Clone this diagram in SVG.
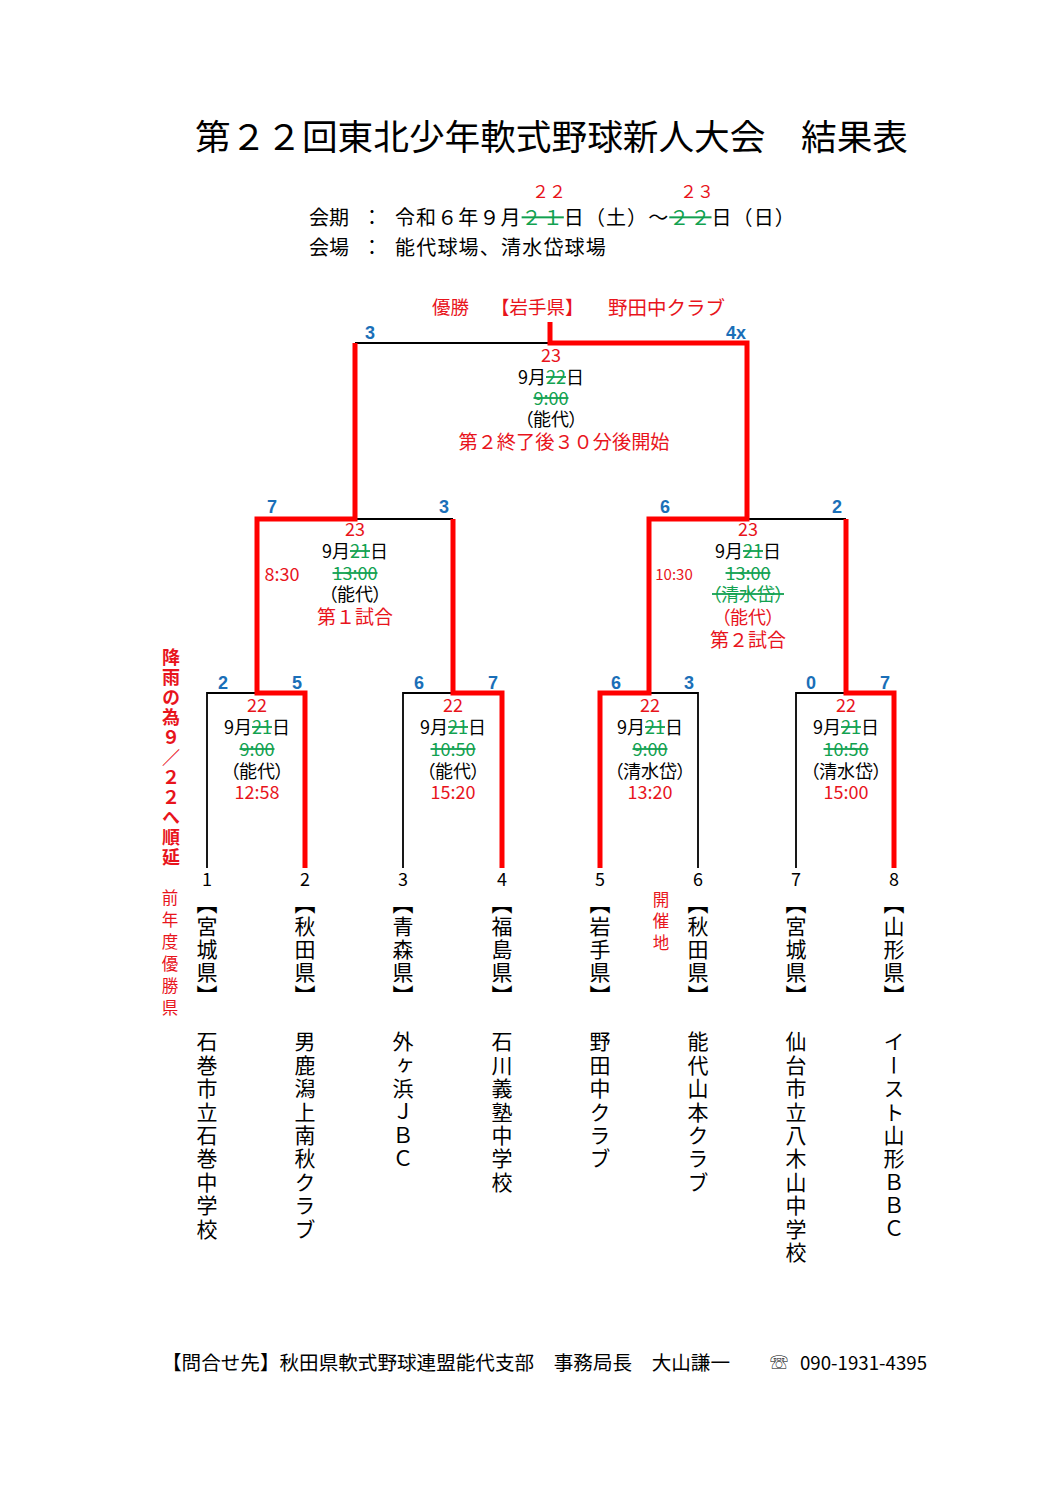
<svg xmlns="http://www.w3.org/2000/svg" width="1058" height="1497" viewBox="0 0 1058 1497">
<style>
.t{font-family:"Noto Sans CJK JP","Noto Sans CJK SC",sans-serif;dominant-baseline:central;fill:#000}
.m{font-size:18px;text-anchor:middle;font-feature-settings:"palt"}
.red{fill:#e8141c}
.grn{fill:#12a150}
.s{text-decoration:line-through}
.sc{font-family:"Liberation Sans",Arial,sans-serif;font-weight:bold;font-size:18px;fill:#1a6fb8;text-anchor:middle;dominant-baseline:central}
.v{writing-mode:vertical-rl;font-size:21px;letter-spacing:2px}
.tn{writing-mode:vertical-rl;font-size:21px;letter-spacing:2.4px}
.rl{stroke:#ff0000;stroke-width:5;fill:none;stroke-linejoin:miter}
.bl{stroke:#000;stroke-width:1.8;fill:none}
.num{font-size:18px;text-anchor:middle}
</style>
<rect width="1058" height="1497" fill="#fff"/>
<g id="title">
<text class="t" x="195" y="134" font-size="35.6" textLength="713" lengthAdjust="spacingAndGlyphs">第２２回東北少年軟式野球新人大会　結果表</text>
</g>
<g id="header">
<text class="t red" x="549" y="190" font-size="17" text-anchor="middle">２２</text>
<text class="t red" x="697" y="190" font-size="17" text-anchor="middle">２３</text>
<text class="t" x="309" y="216" font-size="20">会期</text>
<text class="t" x="372" y="216" font-size="20" text-anchor="middle">：</text>
<text class="t" x="395" y="216" font-size="20" letter-spacing="1.1">令和６年９月<tspan class="grn s">２１</tspan>日（土）～<tspan class="grn s">２２</tspan>日（日）</text>
<text class="t" x="309" y="246" font-size="20">会場</text>
<text class="t" x="372" y="246" font-size="20" text-anchor="middle">：</text>
<text class="t" x="395" y="246" font-size="20" letter-spacing="1.2">能代球場、清水岱球場</text>
</g>
<g id="winner">
<text class="t red" x="432" y="306" font-size="18.5">優勝</text>
<text class="t red" x="491" y="306" font-size="18.5">【岩手県】</text>
<text class="t red" x="608" y="306" font-size="19.5">野田中クラブ</text>
</g>
<g id="connectors">
<path class="bl" d="M355,343 H550"/>
<path class="bl" d="M355,519 H453"/>
<path class="bl" d="M747,519 H846"/>
<path class="bl" d="M207,868 V693 H257"/>
<path class="bl" d="M403,868 V693 H453"/>
<path class="bl" d="M649,693 H698 V868"/>
<path class="bl" d="M796,868 V693 H846"/>
<path class="rl" d="M600,868 V693 H649 V519 H747 V343 H550 V322"/>
<path class="rl" d="M305,868 V693 H257 V519 H355 V343"/>
<path class="rl" d="M502,868 V693 H453 V519"/>
<path class="rl" d="M894,868 V693 H846 V519"/>
</g>
<g id="scores">
<text class="sc" x="370" y="333">3</text>
<text class="sc" x="736" y="333">4x</text>
<text class="sc" x="272" y="507">7</text>
<text class="sc" x="444" y="507">3</text>
<text class="sc" x="665" y="507">6</text>
<text class="sc" x="837" y="507">2</text>
<text class="sc" x="223" y="683">2</text>
<text class="sc" x="297" y="683">5</text>
<text class="sc" x="419" y="683">6</text>
<text class="sc" x="493" y="683">7</text>
<text class="sc" x="616" y="683">6</text>
<text class="sc" x="689" y="683">3</text>
<text class="sc" x="811" y="683">0</text>
<text class="sc" x="885" y="683">7</text>
</g>
<g id="final">
<text class="t m red" x="551" y="354">23</text>
<text class="t m" x="551" y="376">9月<tspan class="grn s">22</tspan>日</text>
<text class="t m grn s" x="551" y="397">9:00</text>
<text class="t m" x="551" y="418">（能代）</text>
<text class="t red" x="564" y="441" font-size="19.2" text-anchor="middle">第２終了後３０分後開始</text>
</g>
<g id="semi1">
<text class="t m red" x="355" y="528">23</text>
<text class="t m" x="355" y="550">9月<tspan class="grn s">21</tspan>日</text>
<text class="t m grn s" x="355" y="572">13:00</text>
<text class="t m" x="355" y="593">（能代）</text>
<text class="t red" x="355" y="615" font-size="19" text-anchor="middle">第１試合</text>
<text class="t m red" x="282" y="573">8:30</text>
</g>
<g id="semi2">
<text class="t m red" x="748" y="528">23</text>
<text class="t m" x="748" y="550">9月<tspan class="grn s">21</tspan>日</text>
<text class="t m grn s" x="748" y="572">13:00</text>
<text class="t m grn s" x="748" y="593">（清水岱）</text>
<text class="t m red" x="748" y="616">（能代）</text>
<text class="t red" x="748" y="638" font-size="19" text-anchor="middle">第２試合</text>
<text class="t red" x="674" y="573" font-size="15" text-anchor="middle">10:30</text>
</g>
<g id="r1m1">
<text class="t m red" x="257" y="704">22</text>
<text class="t m" x="257" y="726">9月<tspan class="grn s">21</tspan>日</text>
<text class="t m grn s" x="257" y="748">9:00</text>
<text class="t m" x="257" y="770">（能代）</text>
<text class="t m red" x="257" y="791">12:58</text>
</g>
<g id="r1m2">
<text class="t m red" x="453" y="704">22</text>
<text class="t m" x="453" y="726">9月<tspan class="grn s">21</tspan>日</text>
<text class="t m grn s" x="453" y="748">10:50</text>
<text class="t m" x="453" y="770">（能代）</text>
<text class="t m red" x="453" y="791">15:20</text>
</g>
<g id="r1m3">
<text class="t m red" x="650" y="704">22</text>
<text class="t m" x="650" y="726">9月<tspan class="grn s">21</tspan>日</text>
<text class="t m grn s" x="650" y="748">9:00</text>
<text class="t m" x="650" y="770">（清水岱）</text>
<text class="t m red" x="650" y="791">13:20</text>
</g>
<g id="r1m4">
<text class="t m red" x="846" y="704">22</text>
<text class="t m" x="846" y="726">9月<tspan class="grn s">21</tspan>日</text>
<text class="t m grn s" x="846" y="748">10:50</text>
<text class="t m" x="846" y="770">（清水岱）</text>
<text class="t m red" x="846" y="791">15:00</text>
</g>
<g id="notes">
<text class="t red" x="171" y="648" font-size="18" font-weight="bold" style="writing-mode:vertical-rl;letter-spacing:2px">降雨の為９／２２へ順延</text>
<text class="t red" x="170" y="889" font-size="16.5" style="writing-mode:vertical-rl;letter-spacing:5.5px">前年度優勝県</text>
<text class="t red" x="661" y="891" font-size="16.5" style="writing-mode:vertical-rl;letter-spacing:5px">開催地</text>
</g>
<g id="team1">
<text class="t num" x="207" y="878">1</text>
<text class="t v" x="207" y="893">【宮城県】</text>
<text class="t tn" x="207" y="1031">石巻市立石巻中学校</text>
</g>
<g id="team2">
<text class="t num" x="305" y="878">2</text>
<text class="t v" x="305" y="893">【秋田県】</text>
<text class="t tn" x="305" y="1031">男鹿潟上南秋クラブ</text>
</g>
<g id="team3">
<text class="t num" x="403" y="878">3</text>
<text class="t v" x="403" y="893">【青森県】</text>
<text class="t tn" x="403" y="1031">外ヶ浜ＪＢＣ</text>
</g>
<g id="team4">
<text class="t num" x="502" y="878">4</text>
<text class="t v" x="502" y="893">【福島県】</text>
<text class="t tn" x="502" y="1031">石川義塾中学校</text>
</g>
<g id="team5">
<text class="t num" x="600" y="878">5</text>
<text class="t v" x="600" y="893">【岩手県】</text>
<text class="t tn" x="600" y="1031">野田中クラブ</text>
</g>
<g id="team6">
<text class="t num" x="698" y="878">6</text>
<text class="t v" x="698" y="893">【秋田県】</text>
<text class="t tn" x="698" y="1031">能代山本クラブ</text>
</g>
<g id="team7">
<text class="t num" x="796" y="878">7</text>
<text class="t v" x="796" y="893">【宮城県】</text>
<text class="t tn" x="796" y="1031">仙台市立八木山中学校</text>
</g>
<g id="team8">
<text class="t num" x="894" y="878">8</text>
<text class="t v" x="894" y="893">【山形県】</text>
<text class="t tn" x="894" y="1031">イースト山形ＢＢＣ</text>
</g>
<g id="footer">
<text class="t" x="162" y="1361" font-size="19.5" textLength="568" lengthAdjust="spacingAndGlyphs">【問合せ先】秋田県軟式野球連盟能代支部　事務局長　大山謙一</text>
<text class="t" x="770" y="1361" font-size="18" font-family="DejaVu Sans">☏</text>
<text class="t" x="800" y="1361" font-size="19" textLength="127" lengthAdjust="spacingAndGlyphs">090-1931-4395</text>
</g>
</svg>
